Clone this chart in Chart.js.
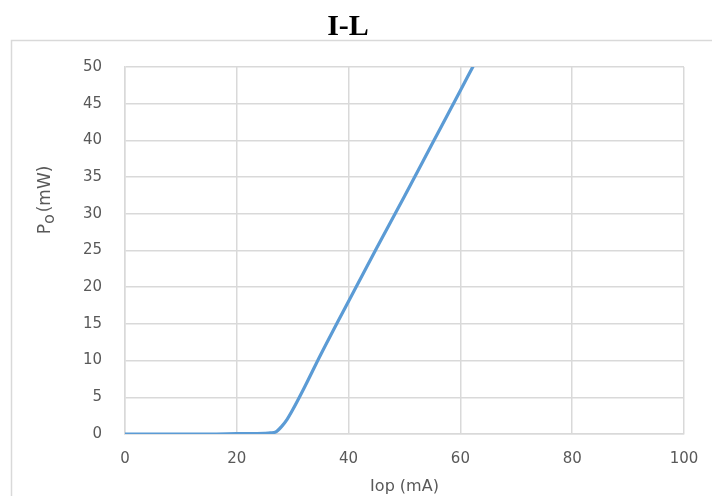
<!DOCTYPE html>
<html>
<head>
<meta charset="utf-8">
<script src="https://cdn.jsdelivr.net/npm/chart.js@4/dist/chart.umd.min.js"></script>
<style>
html,body{margin:0;padding:0;background:#fff;}
#wrap{width:712px;height:496px;position:relative;}
</style>
</head>
<body>
<div id="wrap"><canvas id="c" width="712" height="496"></canvas></div>
<script>
const currentMA = [0, 5, 10, 15, 20, 25, 26, 27, 28, 29, 30, 32, 35, 40, 45, 50, 55, 60, 62, 64];
const powerMW   = [0, 0, 0, 0, 0.05, 0.1, 0.15, 0.3, 1.0, 2.0, 3.3, 6.2, 10.8, 18.1, 25.3, 32.4, 39.6, 46.8, 49.7, 52.6];
const xTicks = [0, 20, 40, 60, 80, 100];
const yTicks = [0, 5, 10, 15, 20, 25, 30, 35, 40, 45, 50];
const yTitleMain = 'P';
const yTitleSub = 'o';
const yTitleRest = '(mW)';

const framePlugin = {
  id: 'frame',
  beforeDraw(chart) {
    const ctx = chart.ctx;
    ctx.save();
    ctx.fillStyle = '#ffffff';
    ctx.fillRect(0, 0, chart.width, chart.height);
    ctx.strokeStyle = '#d9d9d9';
    ctx.lineWidth = 1.5;
    ctx.strokeRect(11.5, 40.5, 760, 520);
    ctx.restore();
  },
  afterDraw(chart) {
    const ctx = chart.ctx;
    ctx.save();
    ctx.translate(46, 200);
    ctx.rotate(-Math.PI / 2);
    ctx.fillStyle = '#595959';
    ctx.textBaseline = 'middle';
    ctx.textAlign = 'left';
    const big = '17px "DejaVu Sans"';
    const small = '16px "DejaVu Sans"';
    ctx.font = big;
    const wP = ctx.measureText(yTitleMain).width;
    ctx.font = small;
    const wO = ctx.measureText(yTitleSub).width;
    ctx.font = big;
    const wR = ctx.measureText(yTitleRest).width;
    const total = wP + wO + wR + 2;
    let x = -total / 2;
    ctx.font = big;
    ctx.fillText(yTitleMain, x, 0);
    x += wP;
    ctx.font = small;
    ctx.fillText(yTitleSub, x, 4);
    x += wO + 2;
    ctx.font = big;
    ctx.fillText(yTitleRest, x, 0);
    ctx.restore();
  }
};

new Chart(document.getElementById('c'), {
  type: 'line',
  data: {
    datasets: [{
      data: currentMA.map((x, i) => ({x: x, y: powerMW[i]})),
      borderColor: '#5b9bd5',
      borderWidth: 3.2,
      pointRadius: 0,
      fill: false,
      cubicInterpolationMode: 'monotone'
    }]
  },
  options: {
    responsive: false,
    animation: false,
    devicePixelRatio: 1,
    layout: {padding: {left: 12, right: 28, top: 0, bottom: 0}},
    plugins: {
      legend: {display: false},
      tooltip: {enabled: false},
      title: {
        display: true,
        text: 'I-L',
        color: '#000000',
        font: {family: 'Liberation Serif', size: 30, weight: 'bold'},
        padding: {top: 9, bottom: 22}
      }
    },
    scales: {
      x: {
        type: 'linear',
        min: 0, max: 100,
        afterBuildTicks(s) { s.ticks = xTicks.map(v => ({value: v})); },
        afterFit(s) { s.height = 62; s.paddingRight = 0; s.paddingLeft = 0; },
        grid: {color: '#d9d9d9', lineWidth: 1.5, drawTicks: false},
        border: {color: '#d9d9d9', width: 1.5},
        ticks: {color: '#595959', font: {family: 'DejaVu Sans', size: 15}, padding: 16},
        title: {display: true, text: 'Iop (mA)', color: '#595959', font: {family: 'DejaVu Sans', size: 16}, padding: {top: 0, bottom: 0}}
      },
      y: {
        type: 'linear',
        min: 0, max: 50,
        afterBuildTicks(s) { s.ticks = yTicks.map(v => ({value: v})); },
        afterFit(s) { s.width = 113; },
        grid: {color: '#d9d9d9', lineWidth: 1.5, drawTicks: false},
        border: {color: '#d9d9d9', width: 1.5},
        ticks: {color: '#595959', font: {family: 'DejaVu Sans', size: 15}, padding: 23},
        title: {display: false}
      }
    }
  },
  plugins: [framePlugin]
});
</script>
</body>
</html>
